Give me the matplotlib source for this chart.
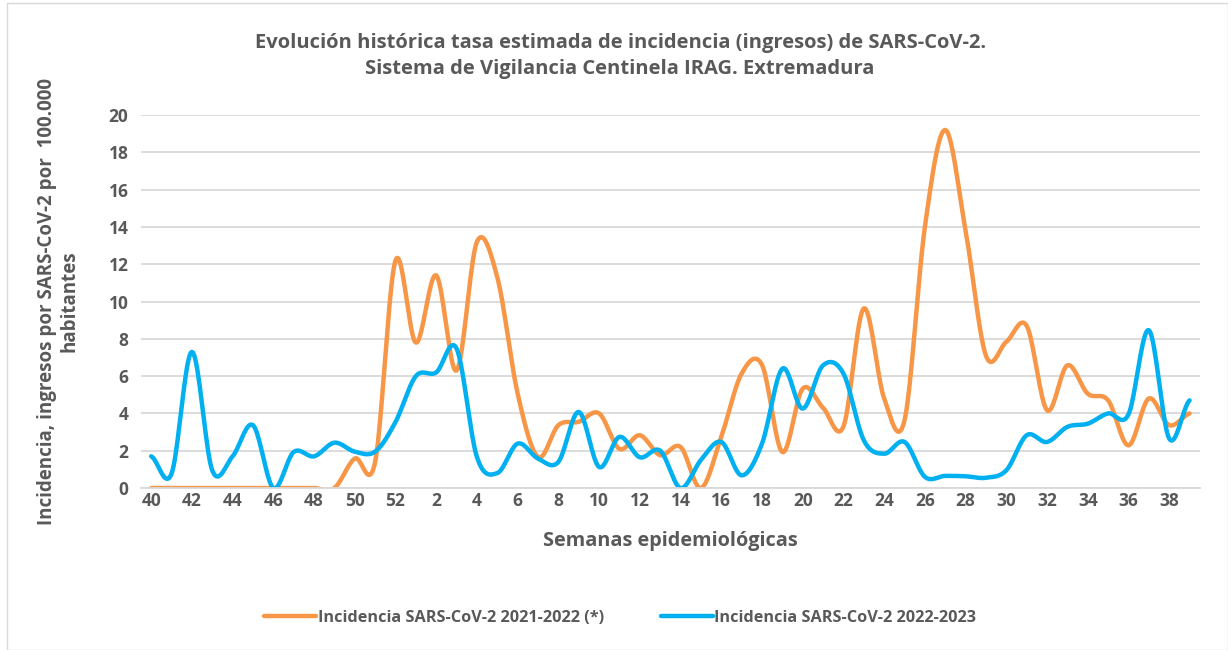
import numpy as np
import matplotlib.pyplot as plt
from matplotlib.patches import Rectangle

plt.rcParams['font.family'] = ['Open Sans', 'DejaVu Sans']

# semanas epidemiologicas (40 a 52, luego 1 a 39)
weeks = list(range(40, 53)) + list(range(1, 40))

inc_2122 = [0, 0, 0, 0, 0, 0, 0, 0, 0, 0, 1.58, 1.4, 12.2,
            7.8, 11.4, 6.3, 13.2, 11.3, 5.06, 1.66, 3.37, 3.55, 4.0,
            2.1, 2.83, 1.76, 2.2, 0.0, 2.74, 6.14, 6.6, 1.93, 5.33,
            4.3, 3.3, 9.63, 4.8, 3.63, 14.0, 19.2, 13.8, 7.1, 7.84,
            8.7, 4.17, 6.58, 5.06, 4.7, 2.29, 4.8, 3.37, 4.0]

inc_2223 = [1.70, 0.77, 7.3, 0.95, 1.7, 3.37, 0.0, 1.93, 1.7, 2.43, 1.95, 1.95, 3.54,
            6.0, 6.2, 7.48, 1.66, 0.8, 2.38, 1.58, 1.4, 4.08, 1.13,
            2.74, 1.65, 2.0, 0.0, 1.5, 2.47, 0.68, 2.38, 6.4, 4.26,
            6.58, 6.14, 2.56, 1.84, 2.47, 0.6, 0.65, 0.63, 0.55, 0.95,
            2.83, 2.47, 3.28, 3.45, 4.0, 3.95, 8.46, 2.65, 4.7]

labels = ['Incidencia SARS-CoV-2 2021-2022 (*)', 'Incidencia SARS-CoV-2 2022-2023']
colors = ['#F79646', '#00B0F0']
grey = '#595959'


def smooth(y, n=20):
    # curva suavizada tipo Excel (Catmull-Rom)
    y = np.asarray(y, float)
    p = np.concatenate([[y[0]], y, [y[-1]]])
    xs, ys = [], []
    for i in range(len(y) - 1):
        p0, p1, p2, p3 = p[i], p[i + 1], p[i + 2], p[i + 3]
        t = np.linspace(0, 1, n, endpoint=False)
        ys.append(0.5 * (2 * p1 + (-p0 + p2) * t + (2 * p0 - 5 * p1 + 4 * p2 - p3) * t**2
                         + (-p0 + 3 * p1 - 3 * p2 + p3) * t**3))
        xs.append(i + t)
    xs.append([len(y) - 1])
    ys.append([y[-1]])
    return np.concatenate(xs), np.concatenate(ys)


fig = plt.figure(figsize=(12.28, 6.5), dpi=100)
fig.patches.append(Rectangle((0.006, 0.0), 0.994, 0.995, transform=fig.transFigure,
                             fill=False, edgecolor='#d9d9d9', linewidth=1))
ax = fig.add_axes([0.1148, 0.2492, 0.8622, 0.5738])

for series, lab, c in zip([inc_2122, inc_2223], labels, colors):
    sx, sy = smooth(series)
    ax.plot(sx, sy, color=c, linewidth=3.2, label=lab, solid_capstyle='round')

ax.set_xlim(-0.5, len(weeks) - 0.5)
ax.set_ylim(0, 20)
ax.set_yticks(range(0, 21, 2))
ax.set_xticks(range(0, len(weeks), 2))
ax.set_xticklabels([str(w) for w in weeks[::2]])
ax.grid(axis='y', color='#d9d9d9', linewidth=1.3)
ax.set_axisbelow(True)
for s in ['top', 'right', 'left']:
    ax.spines[s].set_visible(False)
ax.spines['bottom'].set_color('#d9d9d9')
ax.spines['bottom'].set_linewidth(1.3)
ax.tick_params(length=0, labelsize=12.5, labelcolor=grey)
ax.tick_params(axis='x', pad=3)
ax.tick_params(axis='y', pad=9)
for t in ax.get_xticklabels() + ax.get_yticklabels():
    t.set_fontweight('bold')

fig.text(0.505, 0.914, 'Evolución histórica tasa estimada de incidencia (ingresos) de SARS-CoV-2.\n'
         'Sistema de Vigilancia Centinela IRAG. Extremadura', ha='center', va='center',
         fontsize=14.5, fontweight='bold', color=grey, linespacing=1.45)
ax.set_xlabel('Semanas epidemiológicas', fontsize=14.3, fontweight='bold', color=grey, labelpad=15)
ax.set_ylabel('Incidencia, ingresos por SARS-CoV-2 por  100.000\nhabitantes', fontsize=13.5,
              fontweight='bold', color=grey, labelpad=21, linespacing=1.15)

leg = fig.legend(loc='center', bbox_to_anchor=(0.505, 0.05), ncol=2, frameon=False,
                 handlelength=3.2, handletextpad=0.1, columnspacing=3.5,
                 prop={'weight': 'bold', 'size': 11.7})
for t in leg.get_texts():
    t.set_color(grey)

fig.savefig('out.png', dpi=100)
